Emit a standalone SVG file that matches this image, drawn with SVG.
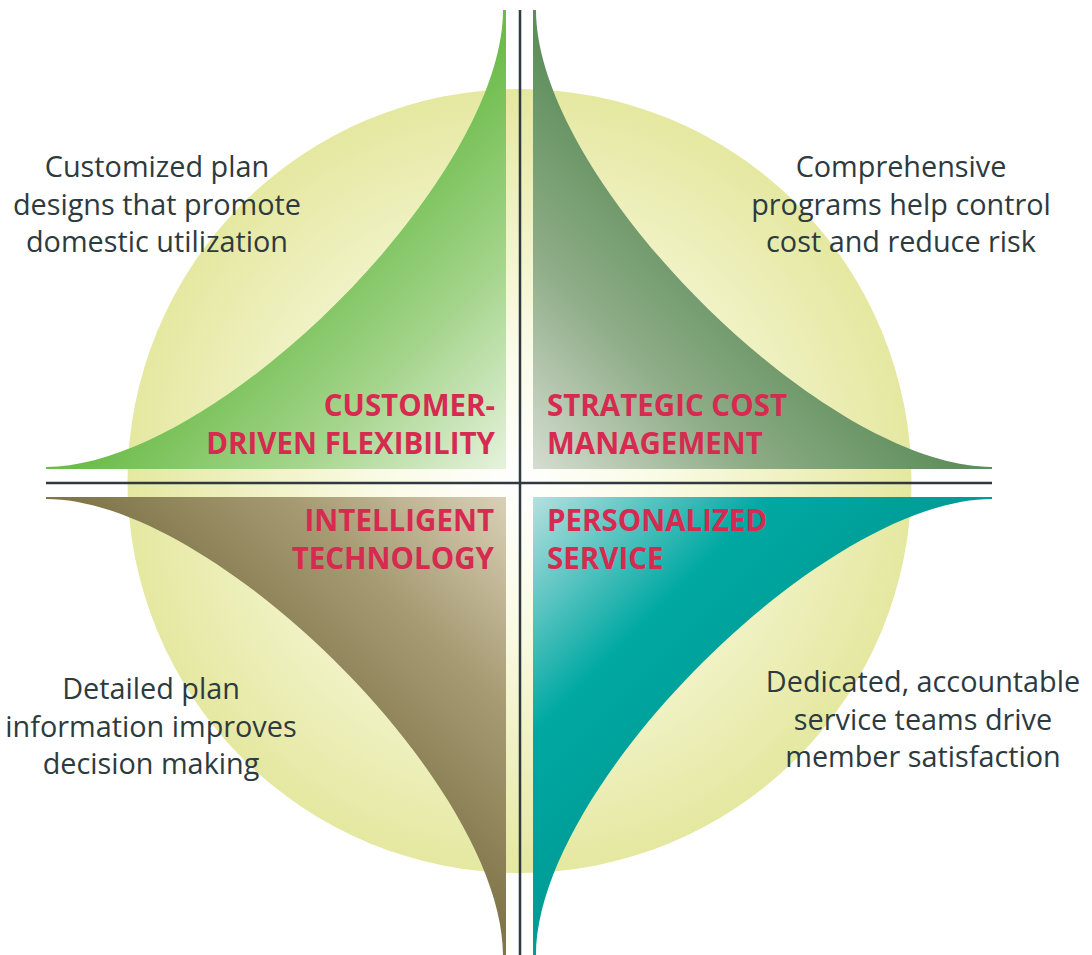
<svg xmlns="http://www.w3.org/2000/svg" width="1092" height="955" viewBox="0 0 1092 955">
  <defs>
    <radialGradient id="gCircle" gradientUnits="userSpaceOnUse" cx="519.5" cy="481" r="392">
      <stop offset="0" stop-color="#ffffff"/>
      <stop offset="0.35" stop-color="#fafbe6"/>
      <stop offset="1" stop-color="#e5e8a0"/>
    </radialGradient>
    <linearGradient id="gTL" gradientUnits="userSpaceOnUse" x1="506" y1="469" x2="290" y2="253">
      <stop offset="0" stop-color="#e6f2dc"/>
      <stop offset="0.5" stop-color="#a3d48a"/>
      <stop offset="1" stop-color="#6cbc4a"/>
    </linearGradient>
    <linearGradient id="gTR" gradientUnits="userSpaceOnUse" x1="533" y1="469" x2="749" y2="253">
      <stop offset="0" stop-color="#d5ddd0"/>
      <stop offset="0.5" stop-color="#8fad88"/>
      <stop offset="1" stop-color="#5e8e5b"/>
    </linearGradient>
    <linearGradient id="gBL" gradientUnits="userSpaceOnUse" x1="506" y1="497" x2="290" y2="713">
      <stop offset="0" stop-color="#d9d0b6"/>
      <stop offset="0.5" stop-color="#a69a72"/>
      <stop offset="1" stop-color="#80764a"/>
    </linearGradient>
    <linearGradient id="gBR" gradientUnits="userSpaceOnUse" x1="533" y1="497" x2="749" y2="713">
      <stop offset="0" stop-color="#b5e0df"/>
      <stop offset="0.55" stop-color="#00a8a2"/>
      <stop offset="1" stop-color="#009c96"/>
    </linearGradient>
  </defs>
  <style>
    .label { font-family: "Open Sans", "Liberation Sans", sans-serif; font-weight: bold; font-size: 29.5px; fill: #d62a50; }
    .desc { font-family: "Open Sans", "Liberation Sans", sans-serif; font-size: 28.8px; fill: #2d3a3e; text-anchor: middle; }
    .axis { stroke: #2f3a40; stroke-width: 2.5; fill: none; }
  </style>
  <rect width="1092" height="955" fill="#ffffff"/>
  <circle id="backdrop" cx="519.5" cy="481" r="392" fill="url(#gCircle)"/>

  <g id="customer-driven-flexibility">
    <path d="M506,469 L46,469 L46,467 C215,467 503,179 503,10 L506,10 Z" fill="url(#gTL)"/>
    <text class="label" text-anchor="end" x="495" y="416">CUSTOMER-</text>
    <text class="label" text-anchor="end" x="495" y="454">DRIVEN FLEXIBILITY</text>
    <text class="desc" x="157" y="177">Customized plan</text>
    <text class="desc" x="157" y="214.5">designs that promote</text>
    <text class="desc" x="157" y="252">domestic utilization</text>
  </g>

  <g id="strategic-cost-management">
    <path d="M533,469 L992,469 L992,467 C824,467 536,179 536,10 L533,10 Z" fill="url(#gTR)"/>
    <text class="label" x="547" y="416">STRATEGIC COST</text>
    <text class="label" x="547" y="454">MANAGEMENT</text>
    <text class="desc" x="901" y="177">Comprehensive</text>
    <text class="desc" x="901" y="214.5">programs help control</text>
    <text class="desc" x="901" y="252">cost and reduce risk</text>
  </g>

  <g id="intelligent-technology">
    <path d="M506,497 L46,497 L46,499 C215,499 503,787 503,955 L506,955 Z" fill="url(#gBL)"/>
    <text class="label" text-anchor="end" x="494" y="531">INTELLIGENT</text>
    <text class="label" text-anchor="end" x="494" y="569">TECHNOLOGY</text>
    <text class="desc" x="151" y="699">Detailed plan</text>
    <text class="desc" x="151" y="736.5">information improves</text>
    <text class="desc" x="151" y="774">decision making</text>
  </g>

  <g id="personalized-service">
    <path d="M533,497 L992,497 L992,499 C824,499 536,787 536,955 L533,955 Z" fill="url(#gBR)"/>
    <text class="label" x="547" y="531">PERSONALIZED</text>
    <text class="label" x="547" y="569">SERVICE</text>
    <text class="desc" x="923" y="692">Dedicated, accountable</text>
    <text class="desc" x="923" y="729.5">service teams drive</text>
    <text class="desc" x="923" y="767">member satisfaction</text>
  </g>

  <g id="connectors">
    <line class="axis" x1="520" y1="10" x2="520" y2="955"/>
    <line class="axis" x1="46" y1="483" x2="992" y2="483"/>
  </g>
</svg>
